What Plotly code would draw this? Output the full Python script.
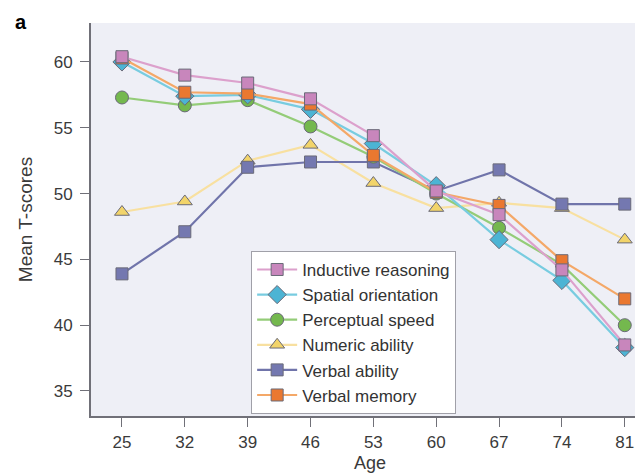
import plotly.graph_objects as go

ages = [25, 32, 39, 46, 53, 60, 67, 74, 81]
inductive = [60.4, 59.0, 58.4, 57.2, 54.4, 50.2, 48.4, 44.2, 38.5]
spatial = [60.0, 57.4, 57.5, 56.4, 53.8, 50.6, 46.5, 43.4, 38.3]
perceptual = [57.3, 56.7, 57.1, 55.1, 52.8, 50.0, 47.4, 44.6, 40.0]
numeric = [48.6, 49.4, 52.5, 53.7, 50.8, 48.9, 49.3, 48.9, 46.5]
verbal_ability = [43.9, 47.1, 52.0, 52.4, 52.4, 50.2, 51.8, 49.2, 49.2]
verbal_memory = [60.3, 57.7, 57.6, 56.8, 52.9, 50.1, 49.1, 44.9, 42.0]

series = [
    ("Inductive reasoning", inductive, "#dca0cc", "#c886bc", "square", 12),
    ("Spatial orientation", spatial, "#78cce0", "#4cb4d4", "diamond", 14),
    ("Perceptual speed", perceptual, "#94cc78", "#74b84e", "circle", 13),
    ("Numeric ability", numeric, "#f8e0a0", "#f2d46a", "triangle-up", 13),
    ("Verbal ability", verbal_ability, "#7074aa", "#7478b0", "square", 12),
    ("Verbal memory", verbal_memory, "#f4a868", "#ea7830", "square", 12),
]

order = [3, 4, 2, 1, 5, 0]
fig = go.Figure()
for i in order:
    name, vals, lc, mc, sym, sz = series[i]
    fig.add_trace(go.Scatter(
        x=ages, y=vals, mode="lines+markers", name=name,
        line=dict(color=lc, width=2.2),
        marker=dict(symbol=sym, size=sz, color=mc,
                    line=dict(color="#6a6a78", width=1)),
        legendrank=i, legendgroup=name,
    ))

fig.update_layout(
    width=643, height=475,
    margin=dict(l=83, r=2, t=15, b=67),
    paper_bgcolor="white",
    plot_bgcolor="#eeeff6",
    font=dict(family="Liberation Sans, Arial, sans-serif", size=17, color="#3a3a3a"),
    showlegend=True,
    legend=dict(x=0.287, y=0.42, xanchor="left", yanchor="top",
                bgcolor="white", bordercolor="#a0a0a8", borderwidth=1,
                font=dict(size=17, color="#333333"), tracegroupgap=0,
                itemwidth=40),
    xaxis=dict(range=[21.55, 83.7], tickvals=ages, showgrid=False, zeroline=False,
               showline=True, linecolor="#707078", linewidth=2,
               ticks="outside", ticklen=9, tickcolor="#707078",
               ticklabelstandoff=1,
               title=dict(text="Age", font=dict(size=18), standoff=5)),
    yaxis=dict(range=[33.1, 62.96], tickvals=[35, 40, 45, 50, 55, 60], showgrid=False,
               zeroline=False, showline=True, linecolor="#707078", linewidth=2,
               ticks="outside", ticklen=9, tickcolor="#707078",
               ticklabelstandoff=4,
               title=dict(text="Mean T-scores", font=dict(size=19), standoff=16)),
    annotations=[dict(text="<b>a</b>", x=-0.14, y=1.035, xref="paper", yref="paper",
                      xanchor="left", yanchor="top", showarrow=False,
                      font=dict(size=20, color="black"))],
)

fig.write_html("out.html")
